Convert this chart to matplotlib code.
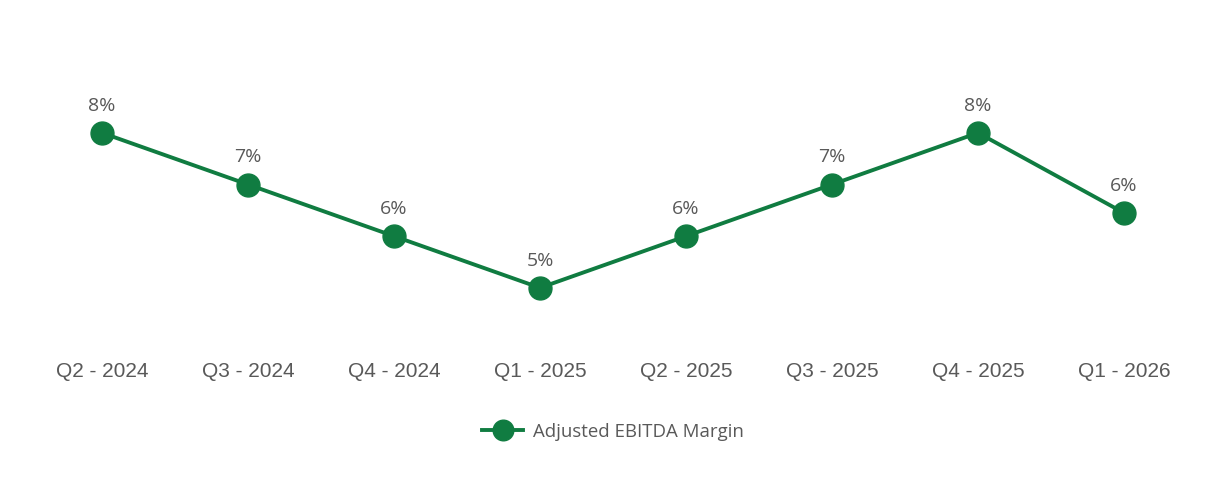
import matplotlib.pyplot as plt

quarters = ['Q2 - 2024', 'Q3 - 2024', 'Q4 - 2024', 'Q1 - 2025',
            'Q2 - 2025', 'Q3 - 2025', 'Q4 - 2025', 'Q1 - 2026']
margin = [8.0, 7.0, 6.0, 5.0, 6.0, 7.0, 8.0, 6.45]

green = '#107C41'
grey = '#595959'

fig = plt.figure(figsize=(12.26, 4.8), dpi=100)
ax = fig.add_axes([29 / 1226, 140 / 480, 1168 / 1226, 280 / 480])

x = range(len(quarters))
ax.plot(x, margin, color=green, lw=2.8, marker='o', ms=16.5,
        label='Adjusted EBITDA Margin')

for i, v in zip(x, margin):
    ax.annotate(f'{v:.0f}%', (i, v), xytext=(0, 13), textcoords='offset points',
                ha='center', va='bottom', fontsize=14, color=grey,
                family='Open Sans')

ax.set_xlim(-0.5, len(quarters) - 0.5)
ax.set_ylim(3.99, 9.41)
ax.set_xticks(list(x))
ax.set_xticklabels(quarters, fontsize=15, color=grey, family='Liberation Sans')
ax.tick_params(axis='x', length=0, pad=16)
ax.set_yticks([])
for s in ax.spines.values():
    s.set_visible(False)

leg = fig.legend(loc='center', bbox_to_anchor=(0.5, 1 - 432 / 480), frameon=False,
                 prop={'family': 'Open Sans', 'size': 13.4}, handlelength=2.2,
                 markerscale=0.9, handletextpad=0.5)
for t in leg.get_texts():
    t.set_color(grey)

plt.savefig('out.png', dpi=100)
